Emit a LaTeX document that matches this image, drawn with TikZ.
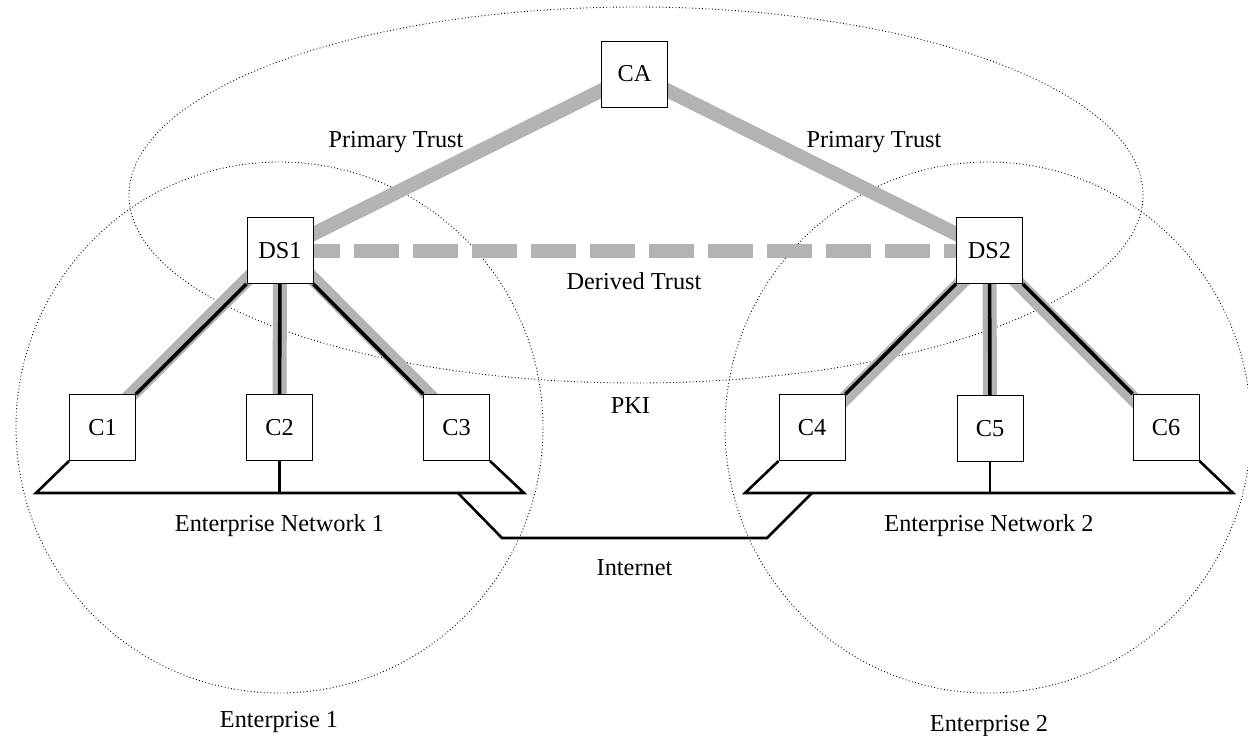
\documentclass[tikz,border=0pt]{standalone}
\usepackage{fontspec}
\setmainfont{Liberation Serif}
\usetikzlibrary{backgrounds}
\definecolor{trustgray}{RGB}{179,179,179}
\tikzset{
  box/.style={draw=black, line width=1pt, fill=white, minimum width=66pt, minimum height=66pt, inner sep=0pt},
  lbl/.style={anchor=base, inner sep=0pt},
  zone/.style={draw=black, line width=0.9pt, dash pattern=on 0.9pt off 2.4pt},
  trust/.style={draw=trustgray, line width=14pt},
  derived/.style={draw=trustgray, line width=14pt, dash pattern=on 45pt off 14pt, dash phase=44pt},
  link/.style={draw=black, line width=3.6pt},
  wire/.style={draw=black, line width=2.6pt, line join=miter},
}
\begin{document}
\begin{tikzpicture}[x=1pt, y=-1pt, font=\fontsize{24.3}{29}\selectfont]
\useasboundingbox (0,0) rectangle (1248,736);

% boxes
\node[box] (CA)  at (634.5,74)    {CA};
\node[box] (DS1) at (280,250.5)   {DS1};
\node[box] (DS2) at (989.5,250.5) {DS2};
\node[box] (C1)  at (102.5,427.5) {C1};
\node[box] (C2)  at (279.5,427.5) {C2};
\node[box] (C3)  at (456.5,427.5) {C3};
\node[box] (C4)  at (812,427.5)   {C4};
\node[box] (C5)  at (990,428.5)   {C5};
\node[box] (C6)  at (1166,427.5)  {C6};

% labels
\node[lbl] (pt1)  at (396,147)   {Primary Trust};
\node[lbl] (pt2)  at (874,147)   {Primary Trust};
\node[lbl] (dt)   at (634,289)   {Derived Trust};
\node[lbl] (pki)  at (630.5,413) {PKI};
\node[lbl] (en1)  at (279.5,531) {Enterprise Network 1};
\node[lbl] (en2)  at (989,531)   {Enterprise Network 2};
\node[lbl] (inet) at (634.5,575) {Internet};
\node[lbl] (e1)   at (279,727)   {Enterprise 1};
\node[lbl] (e2)   at (989,731)   {Enterprise 2};

% network coordinates
\coordinate (b1l) at (36,493);
\coordinate (b1c) at (279.5,493);
\coordinate (b1r) at (524,493);
\coordinate (b1i) at (458,493);
\coordinate (i1)  at (502,538);
\coordinate (i2)  at (767,538);
\coordinate (b2l) at (745,493);
\coordinate (b2i) at (812,493);
\coordinate (b2c) at (990,493);
\coordinate (b2r) at (1233,493);

\draw[wire] (C1.south west) -- (b1l) -- (b1r) -- (C3.south east);
\draw[wire] (C2.south) -- (b1c);
\draw[wire] (b1i) -- (i1) -- (i2) -- (b2i);
\draw[wire] (C4.south west) -- (b2l) -- (b2r) -- (C6.south east);
\draw[wire] (C5.south) -- (b2c);

\begin{scope}[on background layer]
  \draw[zone] (636,195) ellipse [x radius=507pt, y radius=188pt];
  \draw[zone] (279.5,427.5) ellipse [x radius=263.5pt, y radius=265.5pt];
  \draw[zone] (988,427.5) ellipse [x radius=263pt, y radius=265.5pt];

  \draw[trust] (CA.center) -- (DS1.center);
  \draw[trust] (CA.center) -- (DS2.center);
  \draw[derived] (DS1.center) -- (DS2.center);

  \draw[trust, transform canvas={shift={(-2,-2)}}] (DS1.center) -- (C1.center);
  \draw[trust] (DS1.center) -- (C2.center);
  \draw[trust, transform canvas={shift={(2.5,-2.5)}}] (DS1.center) -- (C3.center);
  \draw[trust, transform canvas={shift={(2,2)}}] (DS2.center) -- (C4.center);
  \draw[trust] (DS2.center) -- (C5.center);
  \draw[trust, transform canvas={shift={(-2,2)}}] (DS2.center) -- (C6.center);

  \draw[link] (DS1) -- (C1);
  \draw[link] (DS1) -- (C2);
  \draw[link] (DS1) -- (C3);
  \draw[link] (DS2) -- (C4);
  \draw[link] (DS2) -- (C5);
  \draw[link] (DS2) -- (C6);
\end{scope}
\end{tikzpicture}
\end{document}
